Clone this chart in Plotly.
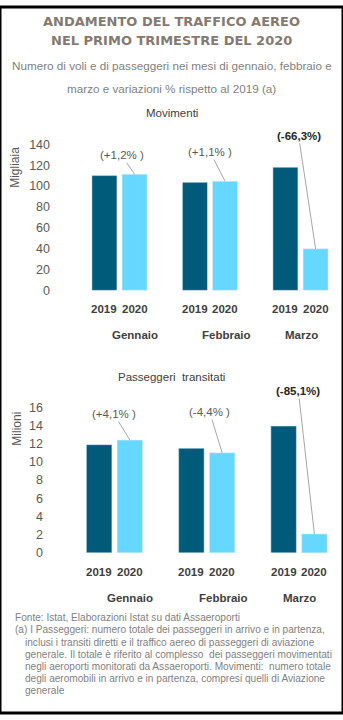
import plotly.graph_objects as go

# ---------------- data ----------------
months = ["Gennaio", "Febbraio", "Marzo"]
years = ["2019", "2020"]
mov_2019 = [110.0, 103.5, 118.0]     # migliaia
mov_2020 = [111.3, 104.6, 39.8]
mov_var = ["(+1,2% )", "(+1,1% )", "(-66,3%)"]
pax_2019 = [11.9, 11.5, 13.95]       # milioni
pax_2020 = [12.4, 11.0, 2.08]
pax_var = ["(+4,1% )", "(-4,4% )", "(-85,1%)"]
mov_ticks = [0, 20, 40, 60, 80, 100, 120, 140]
pax_ticks = [0, 2, 4, 6, 8, 10, 12, 14, 16]

title_lines = ["ANDAMENTO DEL TRAFFICO AEREO", "NEL PRIMO TRIMESTRE DEL 2020"]
subtitle_lines = ["Numero di voli e di passeggeri nei mesi di gennaio, febbraio e",
                  "marzo e variazioni % rispetto al 2019 (a)"]
footer_lines = [
    "Fonte: Istat, Elaborazioni Istat su dati Assaeroporti",
    "(a) I Passeggeri: numero totale dei passeggeri in arrivo e in partenza,",
    "inclusi i transiti diretti e il traffico aereo di passeggeri di aviazione",
    "generale. Il totale è riferito al complesso  dei passeggeri movimentati",
    "negli aeroporti monitorati da Assaeroporti. Movimenti:  numero totale",
    "degli aeromobili in arrivo e in partenza, compresi quelli di Aviazione",
    "generale",
]

# ---------------- style ----------------
W, H = 343, 720
DARK = "#005B7B"
LIGHT = "#66D8FF"
FONT = "Liberation Sans, Arial, sans-serif"
TXT = "#595959"
px = lambda v: v / W
py = lambda v: 1 - v / H

fig = go.Figure()

panels = [
    dict(xa="x", ya="y", v19=mov_2019, v20=mov_2020, var=mov_var, ticks=mov_ticks,
         ytitle="Migliaia", ptitle="Movimenti",
         y0=289, ytop=140, c0=119.5, step=90.5, xl=52, xr=336, ylab=50,
         ytitle_pos=(15, 164), ptitle_y=108,
         arrows=[(-13, -19), (-15, -29), (-17, -113)],
         month_shift=[15.5, 16, 0.5]),
    dict(xa="x2", ya="y2", v19=pax_2019, v20=pax_2020, var=pax_var, ticks=pax_ticks,
         ytitle="Milioni", ptitle="Passeggeri  transitati",
         y0=556.7, ytop=408.3, c0=114.5, step=92.25, xl=46, xr=336, ylab=43,
         ytitle_pos=(17, 430), ptitle_y=377,
         arrows=[(-16, -26), (-12.5, -41), (-16, -143)],
         month_shift=[15, 16.5, 0]),
]

annotations = []
layout_axes = {}
for k, p in enumerate(panels):
    sfx = "" if k == 0 else "2"
    fig.add_trace(go.Bar(x=months, y=p["v19"], name=years[0], marker_color=DARK,
                         xaxis=p["xa"], yaxis=p["ya"], showlegend=False))
    fig.add_trace(go.Bar(x=months, y=p["v20"], name=years[1], marker_color=LIGHT,
                         xaxis=p["xa"], yaxis=p["ya"], showlegend=False))
    rng = [(p["xl"] - p["c0"]) / p["step"], (p["xr"] - p["c0"]) / p["step"]]
    layout_axes["xaxis" + sfx] = dict(domain=[px(p["xl"]), px(p["xr"])], range=rng,
                                      type="category", showticklabels=False,
                                      showgrid=False, zeroline=False, showline=False,
                                      anchor=p["ya"], fixedrange=True)
    layout_axes["yaxis" + sfx] = dict(domain=[py(p["y0"]), py(p["ytop"])],
                                      range=[0, p["ticks"][-1]], tickvals=p["ticks"],
                                      showgrid=False, zeroline=False, showline=False,
                                      anchor="free", position=px(p["ylab"]),
                                      tickfont=dict(family=FONT, size=12.5, color=TXT),
                                      ticks="", ticklen=0)
    half = p["step"] / 6.0  # bar offset in pixels (bargap 1/3 -> +-1/6 category)
    xr_, yr_ = p["xa"], p["ya"]
    for i, m in enumerate(months):
        for j, yr in enumerate(years):
            annotations.append(dict(x=m, y=0, xref=xr_, yref=yr_, text="<b>%s</b>" % yr,
                                    showarrow=False, xshift=(-half if j == 0 else half),
                                    yshift=-19, yanchor="middle",
                                    font=dict(family=FONT, size=11.5, color="#404040")))
        annotations.append(dict(x=m, y=0, xref=xr_, yref=yr_, text="<b>%s</b>" % m,
                                showarrow=False, xshift=p["month_shift"][i],
                                yshift=-45, yanchor="middle",
                                font=dict(family=FONT, size=11.5, color="#404040")))
        txt = p["var"][i]
        bold = i == 2
        annotations.append(dict(x=m, y=p["v20"][i], xref=xr_, yref=yr_,
                                text=("<b>%s</b>" % txt) if bold else txt,
                                showarrow=True, arrowhead=0, arrowwidth=1,
                                arrowcolor="#A6A6A6", ax=p["arrows"][i][0],
                                ay=p["arrows"][i][1], xshift=half, standoff=0,
                                font=dict(family=FONT, size=11.5,
                                          color="#262626" if bold else TXT)))
    annotations.append(dict(x=px(p["ytitle_pos"][0]), y=py(p["ytitle_pos"][1]),
                            xref="paper", yref="paper", text=p["ytitle"], textangle=-90,
                            showarrow=False, xanchor="center", yanchor="middle",
                            font=dict(family=FONT, size=12, color=TXT)))
    annotations.append(dict(x=0.5, y=py(p["ptitle_y"]), xref="paper", yref="paper",
                            text=p["ptitle"], showarrow=False, yanchor="middle",
                            font=dict(family=FONT, size=11.5, color="#404040")))

for i, t in enumerate(title_lines):
    annotations.append(dict(x=0.5, y=py(15 + 19 * i), xref="paper", yref="paper",
                            text="<b>%s</b>" % t, showarrow=False, yanchor="middle",
                            font=dict(family="DejaVu Sans", size=13, color="#857A72")))
for i, t in enumerate(subtitle_lines):
    annotations.append(dict(x=0.5, y=py(60 + 23 * i), xref="paper", yref="paper",
                            text=t, showarrow=False, yanchor="middle",
                            font=dict(family=FONT, size=11.7, color="#7F7F7F")))
for i, t in enumerate(footer_lines):
    annotations.append(dict(x=px(13 if i < 2 else 23), y=py(623 + 12.3 * i),
                            xref="paper", yref="paper", text=t, showarrow=False,
                            xanchor="left", yanchor="middle",
                            font=dict(family=FONT, size=10.1, color="#7F7F7F")))

fig.update_layout(
    width=W, height=H, margin=dict(l=0, r=0, t=0, b=0),
    paper_bgcolor="white", plot_bgcolor="white",
    barmode="group", bargap=1 / 3, bargroupgap=0.17,
    annotations=annotations, showlegend=False,
    shapes=[dict(type="rect", xref="paper", yref="paper", x0=0, y0=0, x1=1, y1=1,
                 line=dict(color="black", width=3))],
    **layout_axes,
)
fig.write_html("out.html", config={"displayModeBar": False})
